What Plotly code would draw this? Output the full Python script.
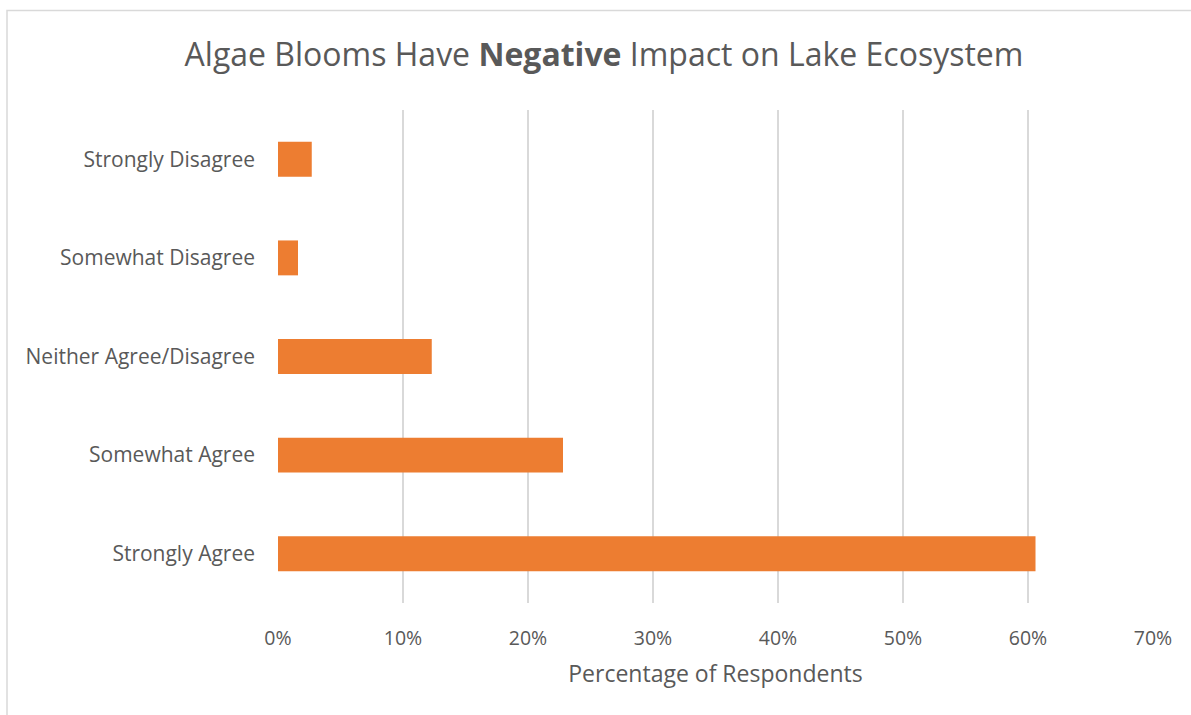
import plotly.graph_objects as go

# Survey responses, listed bottom-to-top as drawn
categories = [
    "Strongly Agree",
    "Somewhat Agree",
    "Neither Agree/Disagree",
    "Somewhat Disagree",
    "Strongly Disagree",
]
shares = [0.606, 0.228, 0.123, 0.016, 0.027]
x_ticks = [0, 0.1, 0.2, 0.3, 0.4, 0.5, 0.6, 0.7]
x_tick_labels = ["0%", "10%", "20%", "30%", "40%", "50%", "60%", "70%"]

W, H = 1191, 715
ML, MR, MT, MB = 278, 38, 110, 112
FONT = "Open Sans"
GREY = "#595959"

fig = go.Figure(
    go.Bar(
        x=shares,
        y=categories,
        orientation="h",
        marker=dict(color="#ED7D31", line=dict(width=0)),
        hoverinfo="x+y",
    )
)

pw = W - ML - MR
ph = H - MT - MB


def px_to_paper_x(px):
    return (px - ML) / pw


def px_to_paper_y(py):
    return (H - MB - py) / ph


fig.update_layout(
    width=W,
    height=H,
    autosize=False,
    margin=dict(l=ML, r=MR, t=MT, b=MB),
    paper_bgcolor="white",
    plot_bgcolor="white",
    bargap=0.646,
    showlegend=False,
    font=dict(family=FONT, color=GREY),
    title=dict(
        text="Algae Blooms Have <b>Negative</b> Impact on Lake Ecosystem",
        font=dict(family=FONT, size=32, color=GREY),
        xref="container",
        x=604 / W,
        xanchor="center",
        yref="container",
        y=1 - 55 / H,
        yanchor="middle",
    ),
    xaxis=dict(
        range=[0, 0.7],
        tickvals=x_ticks,
        ticktext=x_tick_labels,
        showgrid=True,
        gridcolor="#d9d9d9",
        gridwidth=1.8,
        zeroline=False,
        showline=False,
        ticks="",
        ticklabelstandoff=21,
        tickfont=dict(family=FONT, size=19.5, color=GREY),
        title=dict(
            text="Percentage of Respondents",
            font=dict(family=FONT, size=23, color=GREY),
            standoff=16,
        ),
        fixedrange=True,
    ),
    yaxis=dict(
        showgrid=False,
        zeroline=False,
        showline=False,
        ticks="",
        ticklabelstandoff=22,
        tickfont=dict(family=FONT, size=21, color=GREY),
        fixedrange=True,
    ),
    shapes=[
        # outer chart frame, running off the right and bottom edges
        dict(
            type="rect",
            xref="paper",
            yref="paper",
            x0=px_to_paper_x(7),
            x1=px_to_paper_x(W + 20),
            y0=px_to_paper_y(H + 20),
            y1=px_to_paper_y(10.5),
            line=dict(color="#d9d9d9", width=1.5),
            fillcolor="rgba(0,0,0,0)",
            layer="below",
        )
    ],
)

fig.write_html("out.html")
